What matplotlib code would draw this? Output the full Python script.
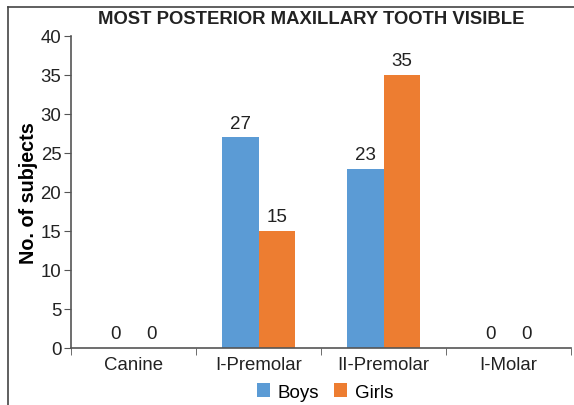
import matplotlib.pyplot as plt
import numpy as np

plt.rcParams['font.family'] = ['Liberation Sans', 'DejaVu Sans']

# Daten
categories = ["Canine", "I-Premolar", "II-Premolar", "I-Molar"]
boys = [0, 27, 23, 0]
girls = [0, 15, 35, 0]

fig = plt.figure(figsize=(5.74, 4.06), dpi=100)
ax = fig.add_axes([0.1237, 0.1404, 0.8711, 0.7685])

x = np.arange(len(categories))
w = 0.29
b1 = ax.bar(x - w / 2, boys, w, color='#5B9BD5', label="Boys")
b2 = ax.bar(x + w / 2, girls, w, color='#ED7D31', label="Girls")

for bars in (b1, b2):
    for r in bars:
        ax.annotate(str(int(r.get_height())), (r.get_x() + r.get_width() / 2, r.get_height()),
                    xytext=(0, 4), textcoords='offset points', ha='center', va='bottom',
                    fontsize=13.5, color='#222222')

ax.set_xlim(-0.5, len(categories) - 0.5)
ax.set_ylim(0, 40)
ax.set_yticks(range(0, 41, 5))
ax.set_xticks(x)
ax.set_xticklabels(categories)
ax.set_xticks(np.arange(-0.5, len(categories)), minor=True)
ax.tick_params(axis='x', which='major', length=0, labelsize=13.4, pad=6, colors='#222222')
ax.tick_params(axis='x', which='minor', length=5, color='#555555')
ax.tick_params(axis='y', length=5, labelsize=13.4, pad=2, colors='#222222')
ax.tick_params(axis='y', color='#555555')

for s in ('top', 'right'):
    ax.spines[s].set_visible(False)
for s in ('left', 'bottom'):
    ax.spines[s].set_color('#555555')
    ax.spines[s].set_linewidth(1.2)

ax.set_ylabel("No. of subjects", fontsize=14.2, fontweight='bold', labelpad=1.5)
fig.text(311 / 574, 1 - 20 / 406, "MOST POSTERIOR MAXILLARY TOOTH VISIBLE",
         ha='center', va='center', fontsize=13.3, fontweight='bold', color='#222222')

fig.legend(loc='center', bbox_to_anchor=(325 / 574, 1 - 393 / 406), ncol=2, frameon=False,
           fontsize=13.5, handlelength=0.7, handleheight=0.7, handletextpad=0.4, columnspacing=0.8)

# Rahmen oben und links
fig.add_artist(plt.Line2D([8 / 574, 1], [1 - 8 / 406, 1 - 8 / 406], color='#444444', lw=1.2))
fig.add_artist(plt.Line2D([8 / 574, 8 / 574], [0, 1 - 8 / 406], color='#444444', lw=1.2))

fig.savefig("out.png", dpi=100)
